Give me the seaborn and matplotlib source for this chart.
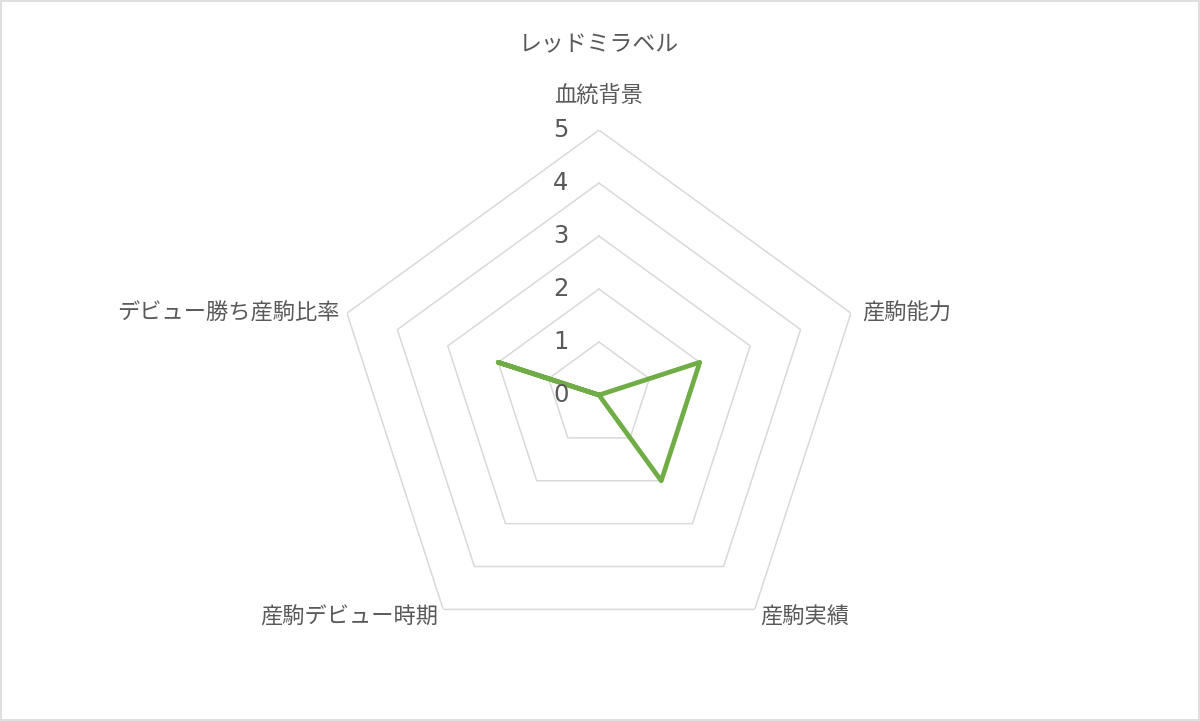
import numpy as np
import pandas as pd
import matplotlib
matplotlib.use("Agg")
import matplotlib.pyplot as plt
from matplotlib.patches import Rectangle
import seaborn as sns

title = "レッドミラベル"
categories = ["血統背景", "産駒能力", "産駒実績", "産駒デビュー時期", "デビュー勝ち産駒比率"]
values = [0, 2, 2, 0, 2]
levels = [0, 1, 2, 3, 4, 5]

sns.set_theme(style="white")
plt.rcParams['font.family'] = ['Noto Sans CJK JP', 'DejaVu Sans']

text_color = "#595959"
grid_color = "#d9d9d9"
line_color = "#70ad47"

n = len(categories)
angles = np.pi / 2 - np.arange(n) * 2 * np.pi / n
angles_closed = np.append(angles, angles[0])

df = pd.DataFrame({"theta": angles_closed, "r": values + [values[0]]})

fig = plt.figure(figsize=(12, 7.21), dpi=100)
ax = fig.add_axes([0.2783, 0.0846, 0.4417, 0.735], projection="polar")
ax.set_ylim(0, 5)
ax.grid(False)
ax.spines["polar"].set_visible(False)
ax.set_xticks([])
ax.set_yticks([])
ax.set_facecolor("none")

for lv in levels[1:]:
    ax.plot(angles_closed, [lv] * (n + 1), color=grid_color, lw=1.1, zorder=1)

sns.lineplot(data=df, x="theta", y="r", sort=False, color=line_color, lw=3.4,
             ax=ax, zorder=3, estimator=None)
ax.set_xlabel("")
ax.set_ylabel("")

px = 0.72
for lv in levels:
    ax.annotate(str(lv), xy=(np.pi / 2, lv), xytext=(-38 * px, 0),
                textcoords="offset points", ha="center", va="center",
                fontsize=17.5, color=text_color, family=['DejaVu Sans'])

offsets = [(0, 34, "center"), (11, 0, "left"), (5, -8, "left"), (-5, -8, "right"), (-7, 0, "right")]
for cat, ang, (dx, dy, ha) in zip(categories, angles, offsets):
    ax.annotate(cat, xy=(ang, 5), xytext=(dx * px, dy * px), textcoords="offset points",
                ha=ha, va="center", fontsize=16, color=text_color)

fig.text(0.4992, 1 - 45 / 721, title, ha="center", va="center", fontsize=16.5, color=text_color)

fig.patches.append(Rectangle((0.001, 0.001), 0.998, 0.997, transform=fig.transFigure,
                             fill=False, edgecolor=grid_color, lw=1.2))

fig.savefig("out.png", dpi=100)
